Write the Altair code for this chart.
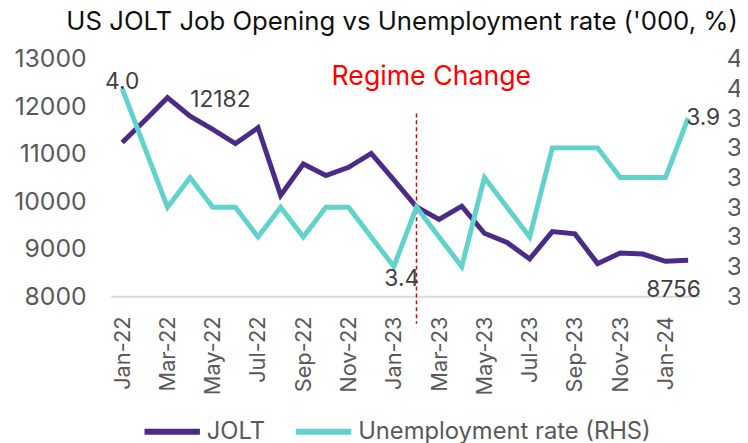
import altair as alt
import pandas as pd

months = ["Jan-22", "Feb-22", "Mar-22", "Apr-22", "May-22", "Jun-22", "Jul-22", "Aug-22",
          "Sep-22", "Oct-22", "Nov-22", "Dec-22", "Jan-23", "Feb-23", "Mar-23", "Apr-23",
          "May-23", "Jun-23", "Jul-23", "Aug-23", "Sep-23", "Oct-23", "Nov-23", "Dec-23",
          "Jan-24", "Feb-24"]
jolt = [11236, 11700, 12182, 11792, 11514, 11215, 11548, 10125, 10785, 10542, 10715, 11006,
        10450, 9882, 9618, 9896, 9326, 9132, 8785, 9361, 9313, 8687, 8910, 8889, 8736, 8756]
unemp = [4.0, 3.8, 3.6, 3.7, 3.6, 3.6, 3.5, 3.6, 3.5, 3.6, 3.6, 3.5, 3.4,
         3.6, 3.5, 3.4, 3.7, 3.6, 3.5, 3.8, 3.8, 3.8, 3.7, 3.7, 3.7, 3.9]
series_names = ["JOLT", "Unemployment rate (RHS)"]
colors = ["#4b2a88", "#62d2cc"]
left_ticks = [8000, 9000, 10000, 11000, 12000, 13000]
right_ticks = [3.3, 3.4, 3.5, 3.6, 3.7, 3.8, 3.9, 4.0, 4.1]
x_ticks = months[::2]
regime_month = "Feb-23"
regime_text = "Regime Change"
regime_text_level = 12625
regime_line_top = 11850
regime_line_bottom = 7420
title_text = "US JOLT Job Opening vs Unemployment rate ('000, %)"

FONT = "Inter"
GRAY = "#595959"
LABEL = "#404040"

df_left = pd.DataFrame({"month": months, "jolt": jolt, "series": series_names[0]})
df_right = pd.DataFrame({"month": months, "unemp": unemp, "series": series_names[1]})

x_enc = alt.X("month:N", sort=months,
              scale=alt.Scale(type="point", padding=0.5),
              axis=alt.Axis(values=x_ticks, labelAngle=-90, title=None, ticks=False,
                            domainColor="#d9d9d9", domainWidth=2, grid=False,
                            labelFontSize=22, labelColor=GRAY, labelPadding=20))

y_left = alt.Y("jolt:Q", scale=alt.Scale(domain=[8000, 13000], nice=False, zero=False),
               axis=alt.Axis(values=left_ticks, title=None, domain=False, ticks=False,
                             grid=False, labelFontSize=25, labelColor=GRAY,
                             labelPadding=25, format="d"))
y_right = alt.Y("unemp:Q", scale=alt.Scale(domain=[3.3, 4.1], nice=False, zero=False),
                axis=alt.Axis(values=right_ticks, orient="right", title=None, domain=False,
                              ticks=False, grid=False, labelFontSize=25, labelColor=GRAY,
                              labelPadding=27, format=".1f"))

color_enc = alt.Color("series:N", scale=alt.Scale(domain=series_names, range=colors),
                      legend=alt.Legend(title=None, orient="none", legendX=31, legendY=346,
                                        direction="horizontal", symbolType="stroke",
                                        symbolSize=3136, symbolStrokeWidth=6,
                                        labelFontSize=24, labelColor=GRAY, labelLimit=500,
                                        columnPadding=19, labelOffset=4))

base_left = alt.Chart(df_left)
base_right = alt.Chart(df_right)

jolt_line = base_left.mark_line(strokeWidth=5).encode(x=x_enc, y=y_left, color=color_enc)
unemp_line = base_right.mark_line(strokeWidth=5).encode(x=x_enc, y=y_right, color=color_enc)

def jolt_label(month, **kw):
    return base_left.transform_filter(alt.datum.month == month).mark_text(
        fontSize=23, color=LABEL, **kw).encode(x=x_enc, y=y_left, text=alt.Text("jolt:Q", format="d"))

def unemp_label(month, **kw):
    return base_right.transform_filter(alt.datum.month == month).mark_text(
        fontSize=23, color=LABEL, **kw).encode(x=x_enc, y=y_right, text=alt.Text("unemp:Q", format=".1f"))

lab_12182 = jolt_label("Mar-22", align="left", baseline="middle", dx=23, dy=2)
lab_8756 = jolt_label("Feb-24", align="right", baseline="middle", dx=13, dy=30)
lab_40 = unemp_label("Jan-22", align="center", baseline="alphabetic", dy=1)
lab_34 = unemp_label("Jan-23", align="center", baseline="top", dx=8, dy=2)
lab_39 = unemp_label("Feb-24", align="left", baseline="middle", dx=-2)

df_rule = pd.DataFrame({"month": [regime_month], "jolt": [regime_line_top], "jolt2": [regime_line_bottom]})
rule = alt.Chart(df_rule).mark_rule(color="#e00000", strokeDash=[4, 3], strokeWidth=1.5).encode(
    x=x_enc, y=y_left, y2="jolt2:Q")

df_regime = pd.DataFrame({"month": [regime_month], "jolt": [regime_text_level], "label": [regime_text]})
regime = alt.Chart(df_regime).mark_text(color="#ff0000", fontSize=27, align="center",
                                        baseline="middle", dx=15).encode(
    x=x_enc, y=y_left, text="label:N")

left = alt.layer(jolt_line, rule, regime, lab_12182, lab_8756)
right = alt.layer(unemp_line, lab_40, lab_34, lab_39)

chart = alt.layer(left, right).resolve_scale(y="independent").properties(
    width=595, height=240,
    title=alt.Title(title_text, anchor="start", frame="group", dx=-45, fontSize=26,
                    font=FONT, fontWeight="normal", color="#111111", offset=12),
    padding={"left": 104, "top": 49, "right": 41, "bottom": 148},
    autosize=alt.AutoSizeParams(type="none"),
).configure(font=FONT).configure_view(stroke=None)

chart.save("out.html", embed_options={"renderer": "svg", "actions": False})
